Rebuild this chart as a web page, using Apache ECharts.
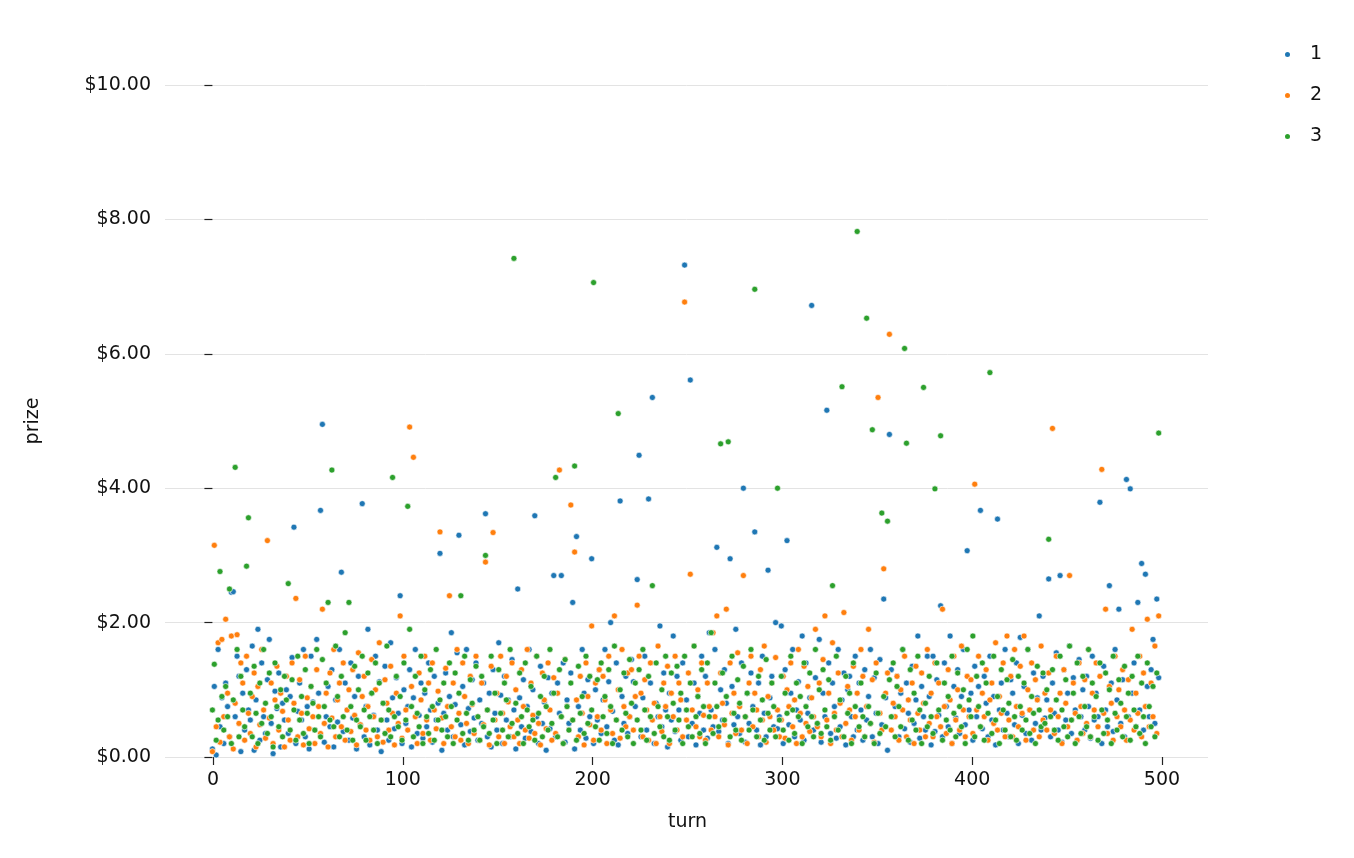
<!DOCTYPE html>
<html>
<head>
<meta charset="utf-8">
<script src="https://cdn.jsdelivr.net/npm/echarts@6/dist/echarts.min.js"></script>
<style>html,body{margin:0;padding:0;background:#fff}#chart{width:1354px;height:858px}</style>
</head>
<body>
<div id="chart"></div>
<script>
// prize per turn, in cents, index = turn
const prize1 = [
12,105,3,160,45,88,20,110,75,30,245,246,60,150,120,8,95,40,130,70,
55,165,10,85,190,25,140,60,35,115,175,50,5,98,72,125,15,80,55,100,
35,90,148,342,20,68,110,55,160,30,75,12,150,82,40,175,95,367,495,22,
60,105,45,130,15,85,52,160,275,38,110,70,25,140,58,90,12,120,48,377,
30,75,190,18,95,62,150,40,112,8,80,135,55,25,170,88,42,118,65,240,
20,100,50,75,130,15,88,160,35,62,110,28,95,45,140,70,22,120,55,80,
303,10,65,125,40,90,185,30,78,155,330,48,105,18,160,72,38,115,58,140,
25,85,50,110,362,30,95,15,130,65,40,170,92,20,120,55,85,30,145,70,
12,250,88,45,115,28,75,160,38,100,359,60,20,135,50,82,10,118,42,95,
270,30,110,65,270,140,22,85,50,125,230,12,328,75,40,160,95,28,115,60,
295,20,100,55,130,35,85,160,45,112,200,68,25,140,18,381,90,50,120,35,
60,145,112,75,264,449,30,88,150,40,384,110,535,20,80,60,195,45,125,70,
15,95,55,180,38,120,70,25,140,732,85,30,561,50,110,18,90,65,150,40,
120,28,185,70,45,160,312,38,100,55,130,80,20,295,105,48,190,60,35,140,
400,22,95,50,125,75,335,40,110,18,150,65,30,278,88,120,45,200,42,60,
195,20,130,322,48,95,160,30,70,112,55,180,25,140,65,88,672,40,118,50,
175,22,95,60,516,140,35,110,75,28,160,45,85,125,18,100,120,60,30,150,
40,110,70,25,130,55,90,160,30,118,65,20,145,48,235,88,10,480,130,60,
75,120,30,95,160,42,110,65,22,135,50,85,180,28,105,60,40,150,90,18,
150,38,115,62,225,30,140,75,45,180,20,105,58,130,35,90,160,48,307,70,
95,25,135,60,105,367,42,120,80,30,150,55,90,18,354,70,110,40,160,65,
30,115,95,48,140,20,178,62,105,35,160,70,25,125,50,88,210,40,120,58,
85,265,30,110,65,155,40,270,22,130,55,95,165,35,118,70,25,145,60,100,
40,120,75,28,150,55,95,60,379,20,135,70,45,255,110,38,160,85,220,50,
115,30,413,60,399,95,140,45,230,70,288,40,272,105,60,130,175,50,235,118
];
const prize2 = [
8,315,45,170,22,175,60,205,95,30,180,12,80,182,50,140,110,25,150,65,
35,90,125,15,105,48,160,70,28,322,58,110,20,85,135,40,95,68,15,120,
55,25,140,80,236,30,115,65,18,150,88,42,105,60,20,130,75,35,220,50,
95,15,125,58,160,30,85,110,45,140,25,70,100,38,130,62,18,155,48,90,
120,40,75,25,145,60,100,30,170,55,22,115,80,40,135,65,18,95,50,210,
28,150,70,40,491,105,446,60,20,125,85,35,150,55,110,25,140,70,42,98,
335,58,20,132,75,240,45,110,30,160,65,25,140,90,50,20,120,78,35,150,
60,25,110,48,290,70,18,135,334,55,95,30,150,65,20,120,82,45,140,30,
100,55,20,130,75,40,160,28,110,62,35,150,50,18,125,85,42,140,70,25,
118,35,95,427,60,20,145,75,40,375,55,305,85,30,120,65,18,140,90,48,
195,25,110,60,130,40,120,85,20,150,70,35,210,55,100,28,160,75,45,125,
60,130,40,90,226,150,95,30,115,70,25,140,55,80,20,165,60,38,110,75,
135,20,95,60,150,40,110,85,30,677,55,125,272,70,165,45,100,30,140,62,
25,110,75,40,185,60,210,30,125,80,48,220,18,140,65,95,35,155,75,40,
270,60,20,110,150,45,95,70,30,130,55,165,22,90,60,110,40,148,70,30,
55,120,28,100,75,140,45,85,20,160,65,30,135,50,105,38,88,60,190,45,
110,30,145,210,55,95,20,170,65,40,125,80,30,215,50,105,70,25,135,60,
95,40,160,120,30,75,190,50,115,22,140,535,65,40,280,95,125,629,40,80,
60,120,25,100,70,150,30,85,55,110,20,135,65,40,125,80,30,160,50,95,
30,140,60,110,45,220,75,35,130,85,20,150,55,100,40,165,70,30,120,60,
115,35,406,70,150,45,95,60,130,25,85,110,50,170,40,90,65,140,30,180,
55,120,30,160,75,45,135,65,180,25,100,70,140,40,115,85,30,165,55,95,
40,125,70,489,35,150,60,95,20,130,80,45,270,55,110,65,25,140,75,35,
115,50,160,30,95,70,140,45,120,428,65,220,35,105,80,25,150,60,100,45,
130,70,25,115,55,190,40,95,65,150,30,125,75,205,45,110,60,165,35,210
];
const prize3 = [
70,138,25,55,276,90,40,105,60,250,20,85,431,160,30,120,70,45,284,356,
95,30,135,65,20,110,50,160,80,35,125,60,15,140,75,45,100,30,120,85,
258,40,115,70,25,150,55,90,35,130,65,20,105,80,40,160,60,30,145,75,
110,230,55,427,45,165,90,30,120,60,185,40,230,75,25,135,55,100,45,150,
70,25,125,60,95,40,140,20,110,55,80,35,165,70,30,416,60,120,45,90,
25,140,55,373,190,75,30,120,65,45,150,20,100,60,35,130,75,25,160,55,
85,40,110,60,30,140,75,20,125,55,95,240,35,150,65,25,115,80,40,135,
60,25,120,45,300,70,35,150,55,95,20,130,65,40,110,85,30,160,50,742,
80,35,125,60,20,140,70,45,105,55,25,150,65,90,30,120,75,40,160,50,
95,416,30,130,60,20,145,75,40,110,55,433,25,135,65,90,35,150,50,120,
70,706,45,115,25,140,60,90,35,130,75,20,165,55,511,100,40,125,65,30,
145,80,20,110,55,130,40,160,70,25,120,60,255,35,140,75,45,100,30,150,
60,25,125,80,40,135,55,95,20,150,70,45,110,30,165,60,90,35,130,75,
20,140,60,185,35,110,75,45,466,125,55,90,469,30,150,65,40,115,80,25,
135,60,95,40,160,70,696,30,120,55,85,25,145,65,40,110,75,30,400,55,
120,40,95,65,25,150,70,35,110,60,90,20,140,75,45,125,60,30,160,50,
100,35,130,70,45,115,25,255,60,150,40,85,551,30,120,65,95,20,140,75,
782,45,110,60,30,653,75,50,487,20,125,65,35,363,90,45,351,115,60,140,
30,105,75,45,160,608,467,25,130,55,95,40,150,70,20,550,80,45,120,60,
35,399,140,70,478,25,110,55,90,40,150,65,30,125,75,45,100,20,160,85,
60,180,30,120,75,45,140,25,110,65,572,35,150,55,90,20,130,70,40,115,
80,30,145,60,25,120,75,40,110,55,160,35,90,65,20,135,70,45,125,50,
100,324,60,130,40,85,25,150,70,45,115,30,165,55,95,20,140,60,35,120,
75,45,160,30,110,60,90,25,140,70,35,125,55,100,20,150,65,40,115,80,
30,135,60,95,25,120,70,45,150,35,110,60,20,140,75,45,105,30,125,482
];
const seriesNames = ["1", "2", "3"];
const colors = ["#1f77b4", "#ff7f0e", "#2ca02c"];

const toPoints = (arr) => arr.map((c, i) => [i, c / 100]);

let myChart = echarts.init(document.getElementById("chart"));
const font = "DejaVu Sans";
let option = {
  animation: false,
  textStyle: { fontFamily: font },
  color: colors,
  grid: [
    { left: 165, right: 146, top: 85, bottom: 101 },
    { left: 213, right: 192, top: 85, bottom: 101 },
  ],
  legend: {
    orient: "vertical",
    left: 1278,
    top: 40,
    itemGap: 22,
    icon: "circle",
    itemWidth: 7,
    itemHeight: 7,
    textStyle: { fontSize: 19, color: "#111", padding: [0, 0, 0, 14] },
    data: seriesNames,
  },
  xAxis: [
    {
      gridIndex: 0, type: "value", min: -25, max: 525,
      axisLine: { show: false }, axisTick: { show: false },
      axisLabel: { show: false }, splitLine: { show: false },
    },
    {
      gridIndex: 1, type: "value", min: 0, max: 500, interval: 100,
      name: "turn", nameLocation: "middle", nameGap: 56,
      nameTextStyle: { fontSize: 19, color: "#111" },
      axisLine: { show: false },
      axisTick: { show: true, length: 8, lineStyle: { color: "#222", width: 1.2 } },
      axisLabel: { fontSize: 19, color: "#111", margin: 14 },
      splitLine: { show: false },
    },
  ],
  yAxis: [
    {
      gridIndex: 0, type: "value", min: 0, max: 10, interval: 2,
      name: "prize", nameLocation: "middle", nameGap: 122,
      nameTextStyle: { fontSize: 19, color: "#111" },
      axisLine: { show: false },
      axisTick: { show: true, length: 8, lineStyle: { color: "#222", width: 1.2 } },
      axisLabel: { fontSize: 19, color: "#111", margin: 14, formatter: (v) => "$" + v.toFixed(2) },
      splitLine: { show: true, lineStyle: { color: "#e3e3e3", width: 1 } },
    },
    { gridIndex: 1, type: "value", min: 0, max: 10, show: false },
  ],
  series: [prize1, prize2, prize3].map((arr, i) => ({
    type: "scatter",
    name: seriesNames[i],
    xAxisIndex: 0,
    yAxisIndex: 0,
    symbolSize: 6,
    itemStyle: { color: colors[i], opacity: 1, borderColor: "#fff", borderWidth: 0.6 },
    data: toPoints(arr),
  })),
};
myChart.setOption(option);
</script>
</body>
</html>
